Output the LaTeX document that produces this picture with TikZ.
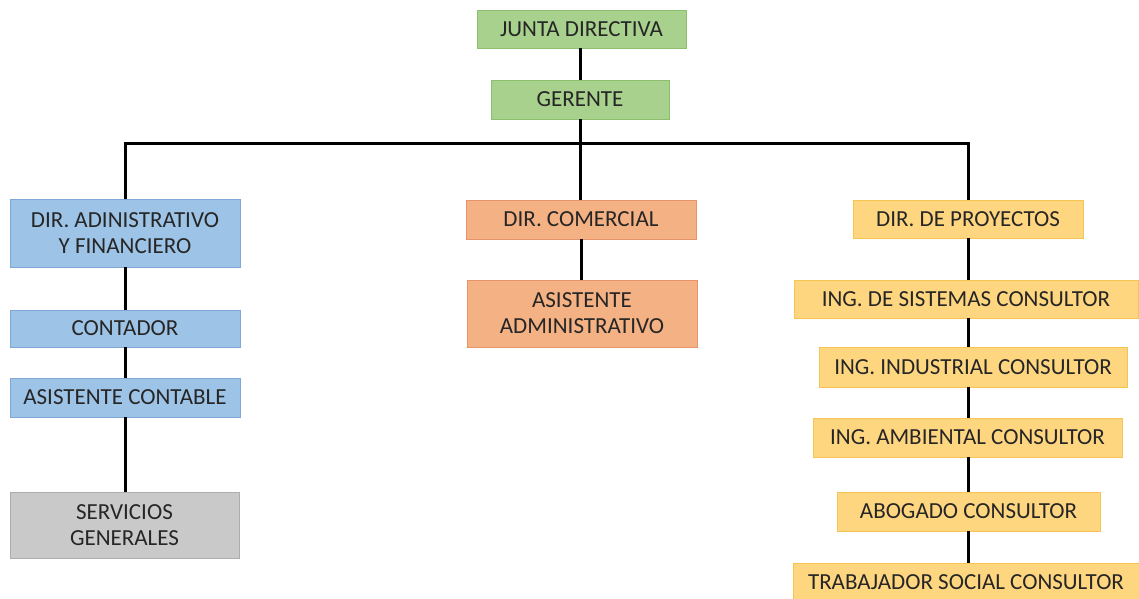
\documentclass[tikz,border=0pt]{standalone}
\usepackage{fontspec}
\setmainfont{Carlito}
\begin{document}
\begin{tikzpicture}[x=1pt,y=-1pt,
  box/.style={draw, line width=0.8pt, inner sep=0pt, align=center, text=black!85,
    font=\fontsize{23}{26}\selectfont},
  green/.style={box, fill=gbox, draw=gline},
  blue/.style={box, fill=bbox, draw=bline},
  orange/.style={box, fill=obox, draw=oline},
  yellow/.style={box, fill=ybox, draw=yline},
  gray/.style={box, fill=grbox, draw=grline},
  link/.style={line width=3pt, black}]
\definecolor{gbox}{HTML}{A9D18E}\definecolor{gline}{HTML}{8DBF6E}
\definecolor{bbox}{HTML}{9DC3E6}\definecolor{bline}{HTML}{7FA8D6}
\definecolor{obox}{HTML}{F4B183}\definecolor{oline}{HTML}{E69468}
\definecolor{ybox}{HTML}{FFD680}\definecolor{yline}{HTML}{F5C453}
\definecolor{grbox}{HTML}{C9C9C9}\definecolor{grline}{HTML}{ADADAD}
\useasboundingbox[fill=white] (0,0) rectangle (1139,598);
\clip (0,0) rectangle (1139,598);
% nodes
\node[green, minimum width=209, minimum height=38] (jd) at (581.5,29) {JUNTA DIRECTIVA};
\node[green, minimum width=178, minimum height=39] (ger) at (580,99.5) {GERENTE};
\node[blue, minimum width=230, minimum height=68] (dadm) at (125,233) {DIR. ADINISTRATIVO\\Y FINANCIERO};
\node[blue, minimum width=230, minimum height=37] (cont) at (125,328.5) {CONTADOR};
\node[blue, minimum width=230, minimum height=39] (asc) at (125,397.5) {ASISTENTE CONTABLE};
\node[gray, minimum width=229, minimum height=66] (serv) at (124.5,525) {SERVICIOS\\GENERALES};
\node[orange, minimum width=230, minimum height=39] (dcom) at (581,219.5) {DIR. COMERCIAL};
\node[orange, minimum width=230, minimum height=67] (asad) at (582,313.5) {ASISTENTE\\ADMINISTRATIVO};
\node[yellow, minimum width=230, minimum height=38] (dpro) at (968,219) {DIR. DE PROYECTOS};
\node[yellow, minimum width=344, minimum height=38] (sis) at (966,299) {ING. DE SISTEMAS CONSULTOR};
\node[yellow, minimum width=308, minimum height=40] (ind) at (973,367) {ING. INDUSTRIAL CONSULTOR};
\node[yellow, minimum width=309, minimum height=39] (amb) at (967.5,437.5) {ING. AMBIENTAL CONSULTOR};
\node[yellow, minimum width=263, minimum height=39] (abo) at (968.5,511.5) {ABOGADO CONSULTOR};
\node[yellow, minimum width=346, minimum height=38] (tra) at (966,582) {TRABAJADOR SOCIAL CONSULTOR};
% connectors
\coordinate (bl) at (125,143);
\coordinate (br) at (968,143);
\draw[link] (jd.south -| ger) -- (ger.north);
\draw[link] (ger.south) -- (ger.south |- dcom.north);
\draw[link] ([xshift=-1.5pt]bl) -- ([xshift=1.5pt]br);
\draw[link] (bl) -- (bl |- dadm.north);
\draw[link] (br) -- (br |- dpro.north);
\draw[link] (dadm.south) -- (cont.north);
\draw[link] (cont.south) -- (asc.north);
\draw[link] (asc.south) -- (serv.north -| asc);
\draw[link] (dcom.south) -- (dcom.south |- asad.north);
\draw[link] (dpro.south) -- (dpro.south |- sis.north);
\draw[link] (sis.south -| dpro) -- (dpro |- ind.north);
\draw[link] (ind.south -| dpro) -- (dpro |- amb.north);
\draw[link] (amb.south -| dpro) -- (dpro |- abo.north);
\draw[link] (abo.south -| dpro) -- (dpro |- tra.north);
\end{tikzpicture}
\end{document}
